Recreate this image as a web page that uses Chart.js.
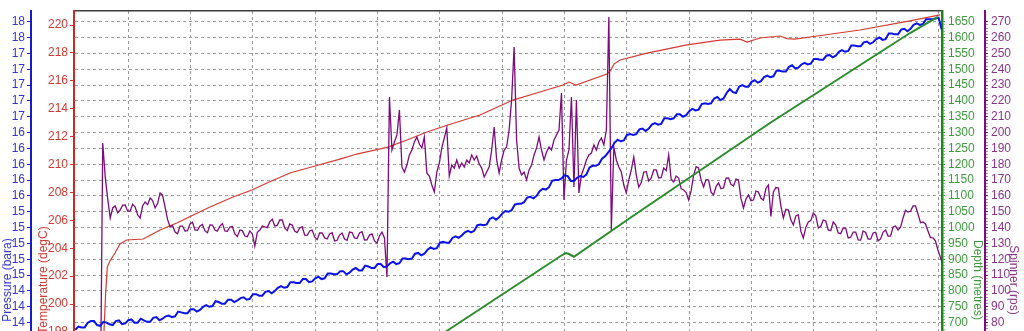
<!DOCTYPE html>
<html>
<head>
<meta charset="utf-8">
<script src="https://cdn.jsdelivr.net/npm/chart.js@4.4.0/dist/chart.umd.min.js"></script>
<style>
  html, body { margin: 0; padding: 0; overflow: hidden; background: #fff; }
  #wrap { position: relative; width: 1024px; height: 560px; }
</style>
</head>
<body>
<div id="wrap"><canvas id="logChart"></canvas></div>
<script>
// grid positions along the (hidden) time axis
var xGrid = [1, 2, 3, 4, 5, 6, 7, 8, 9, 10, 11, 12, 13, 14];

var pressureTicks = [18.2, 18.0, 17.8, 17.6, 17.4, 17.2, 17.0, 16.8, 16.6, 16.4, 16.2, 16.0, 15.8, 15.6, 15.4, 15.2, 15.0, 14.8, 14.6, 14.4, 14.2, 14.0, 13.8];
var temperatureTicks = [220, 218, 216, 214, 212, 210, 208, 206, 204, 202, 200, 198, 196, 194];
var depthTicks = [1650, 1600, 1550, 1500, 1450, 1400, 1350, 1300, 1250, 1200, 1150, 1100, 1050, 1000, 950, 900, 850, 800, 750, 700, 650, 600];
var spinnerTicks = [270, 260, 250, 240, 230, 220, 210, 200, 190, 180, 170, 160, 150, 140, 130, 120, 110, 100, 90, 80, 70, 60];

// temperature (degC)
var temperatureTime = [0.60, 0.637, 0.663, 0.706, 0.787, 0.867, 0.974, 1.241, 1.509, 1.777, 2.043, 2.311, 2.680, 2.985, 3.225, 3.594, 3.996, 4.397, 4.665, 5.166, 5.471, 5.792, 6.129, 6.642, 7.172, 7.605, 7.974, 8.070, 8.183, 8.680, 8.744, 8.792, 8.889, 9.322, 9.964, 10.494, 10.815, 10.927, 11.135, 11.456, 11.569, 11.697, 11.938, 12.740, 13.542, 14.023];
var temperatureValues = [197.0, 200.79, 202.65, 203.08, 203.66, 204.30, 204.59, 204.66, 205.30, 205.81, 206.38, 206.95, 207.67, 208.17, 208.67, 209.39, 209.89, 210.39, 210.75, 211.25, 211.76, 212.33, 212.83, 213.55, 214.62, 215.20, 215.70, 215.91, 215.70, 216.49, 216.77, 217.20, 217.49, 217.99, 218.57, 218.92, 218.99, 218.78, 219.07, 219.21, 219.03, 218.99, 219.14, 219.64, 220.29, 220.72];

// depth (metres)
var depthTime = [0.90, 6.108, 7.974, 8.022, 8.070, 8.150, 9.049, 11.295, 13.542, 13.99];
var depthValues = [0, 673.7, 915.1, 919.9, 916.7, 908.2, 1030.4, 1330.2, 1614.3, 1665];

// pressure (bara), one reading every 0.05 from t = 0.15
var pressureStart = 0.15, pressureStep = 0.05;
var pressureValues = [
  14.31, 14.35, 14.34, 14.34, 14.40, 14.42, 14.42, 14.37, 14.36, 14.41,
  14.40, 14.38, 14.37, 14.42, 14.43, 14.38, 14.39, 14.43, 14.44, 14.40,
  14.40, 14.45, 14.43, 14.41, 14.41, 14.46, 14.47, 14.43, 14.45, 14.48,
  14.49, 14.47, 14.48, 14.54, 14.53, 14.52, 14.52, 14.57, 14.57, 14.54,
  14.56, 14.60, 14.62, 14.60, 14.61, 14.67, 14.66, 14.64, 14.64, 14.69,
  14.69, 14.66, 14.68, 14.71, 14.72, 14.69, 14.70, 14.76, 14.76, 14.74,
  14.74, 14.79, 14.80, 14.77, 14.80, 14.84, 14.86, 14.84, 14.85, 14.91,
  14.91, 14.90, 14.90, 14.95, 14.95, 14.91, 14.92, 14.96, 14.98, 14.95,
  14.96, 15.02, 15.02, 15.01, 15.01, 15.05, 15.05, 15.01, 15.03, 15.07,
  15.09, 15.06, 15.06, 15.12, 15.11, 15.09, 15.09, 15.14, 15.14, 15.10,
  15.11, 15.15, 15.17, 15.14, 15.15, 15.21, 15.21, 15.20, 15.21, 15.27,
  15.28, 15.25, 15.27, 15.32, 15.35, 15.33, 15.34, 15.41, 15.42, 15.41,
  15.41, 15.47, 15.49, 15.47, 15.50, 15.54, 15.56, 15.54, 15.56, 15.63,
  15.64, 15.63, 15.64, 15.71, 15.73, 15.70, 15.73, 15.78, 15.81, 15.80,
  15.82, 15.89, 15.90, 15.90, 15.92, 15.98, 15.99, 15.97, 16.00, 16.06,
  16.09, 16.08, 16.11, 16.19, 16.20, 16.20, 16.22, 16.26, 16.25, 16.19,
  16.19, 16.23, 16.25, 16.24, 16.27, 16.36, 16.38, 16.38, 16.40, 16.47,
  16.50, 16.55, 16.60, 16.67, 16.71, 16.69, 16.70, 16.77, 16.78, 16.77,
  16.78, 16.84, 16.85, 16.82, 16.85, 16.90, 16.92, 16.90, 16.91, 16.98,
  16.98, 16.97, 16.98, 17.03, 17.03, 17.00, 17.02, 17.07, 17.10, 17.08,
  17.09, 17.16, 17.17, 17.16, 17.17, 17.23, 17.25, 17.21, 17.23, 17.30,
  17.35, 17.31, 17.30, 17.38, 17.40, 17.38, 17.38, 17.44, 17.46, 17.43,
  17.45, 17.50, 17.52, 17.50, 17.51, 17.58, 17.58, 17.57, 17.57, 17.63,
  17.65, 17.61, 17.62, 17.66, 17.68, 17.66, 17.67, 17.73, 17.73, 17.72,
  17.72, 17.77, 17.78, 17.75, 17.77, 17.82, 17.84, 17.82, 17.83, 17.90,
  17.90, 17.89, 17.89, 17.94, 17.95, 17.92, 17.94, 17.98, 18.00, 17.97,
  17.98, 18.05, 18.05, 18.04, 18.04, 18.10, 18.11, 18.08, 18.11, 18.16,
  18.18, 18.16, 18.17, 18.23, 18.23, 18.23, 18.24, 18.25, 18.10
];

// spinner (rps), one reading every 0.04 from t = 0.15
var spinnerStart = 0.15, spinnerStep = 0.04;
var spinnerValues = [
  20, 20, 20, 20, 20, 20, 20, 20, 20, 20,
  20, 193.4, 172.0, 158.0, 146.1, 152.4, 153.7, 149.4, 151.1, 154.2,
  154.3, 150.4, 150.5, 154.8, 153.0, 148.1, 146.1, 153.7, 156.2, 154.5,
  158.7, 157.1, 152.4, 155.2, 161.9, 160.5, 153.0, 145.2, 140.4, 141.3,
  137.2, 136.1, 141.0, 141.0, 137.9, 138.1, 142.3, 143.4, 138.5, 138.3,
  141.0, 142.0, 137.9, 136.8, 141.7, 141.6, 138.5, 137.8, 141.0, 142.5,
  137.9, 137.7, 140.4, 140.7, 136.0, 134.3, 138.5, 138.1, 134.7, 134.3,
  137.9, 136.0, 128.4, 137.0, 138.5, 141.0, 140.4, 140.0, 143.6, 145.3,
  141.0, 141.4, 144.8, 144.8, 139.8, 138.1, 142.3, 141.6, 137.9, 136.9,
  139.8, 140.6, 135.3, 135.1, 137.9, 138.5, 134.1, 132.4, 136.6, 136.6,
  133.5, 132.8, 136.0, 136.8, 131.6, 132.0, 135.3, 136.6, 132.8, 132.0,
  137.2, 136.9, 133.5, 133.1, 136.6, 137.4, 132.2, 132.3, 135.3, 136.0,
  131.6, 130.2, 134.7, 137.2, 133.5, 108.8, 222.5, 189.0, 194.1, 198.5,
  214.3, 178.3, 175.1, 179.5, 185.9, 189.0, 194.1, 197.2, 192.8, 190.3,
  197.2, 174.5, 172.6, 166.9, 162.5, 175.1, 180.8, 190.3, 196.6, 202.9,
  172.6, 179.5, 177.6, 182.7, 177.6, 180.8, 178.3, 182.7, 180.8, 185.9,
  182.7, 185.2, 180.2, 177.6, 172.0, 175.1, 178.3, 189.0, 203.5, 182.7,
  174.5, 182.7, 189.0, 190.9, 201.6, 220.6, 254.0, 195.3, 177.6, 173.2,
  175.1, 170.1, 176.4, 179.5, 185.9, 190.3, 197.2, 189.0, 182.7, 187.7,
  190.9, 189.0, 195.3, 198.5, 201.6, 225.0, 157.4, 182.7, 189.0, 222.5,
  165.6, 220.6, 161.9, 173.2, 177.6, 182.7, 185.9, 187.1, 192.2, 189.0,
  194.1, 196.6, 192.2, 201.6, 273.0, 138.5, 190.9, 182.7, 178.3, 175.1,
  166.9, 161.9, 170.1, 176.4, 184.6, 173.2, 165.6, 168.4, 175.1, 175.3,
  169.4, 171.4, 176.4, 176.4, 171.3, 171.5, 177.6, 176.0, 185.9, 170.5,
  168.8, 172.6, 171.3, 164.6, 163.8, 162.1, 157.4, 163.3, 173.2, 178.4,
  177.6, 170.1, 165.6, 170.4, 170.1, 162.4, 160.6, 165.9, 168.2, 164.6,
  165.0, 171.2, 171.3, 167.3, 166.3, 170.7, 170.1, 158.3, 152.4, 158.0,
  160.6, 157.0, 157.4, 163.0, 162.5, 158.5, 157.4, 164.7, 166.9, 147.0,
  162.5, 165.3, 165.0, 153.6, 146.1, 151.6, 151.1, 144.9, 141.7, 147.4,
  148.0, 137.8, 133.5, 140.1, 143.6, 144.4, 149.2, 147.5, 139.8, 140.8,
  144.8, 144.2, 138.5, 138.1, 143.6, 141.6, 136.6, 136.2, 139.8, 139.7,
  133.5, 133.9, 137.2, 137.2, 132.2, 132.1, 137.9, 136.9, 132.8, 132.7,
  136.6, 137.1, 131.6, 132.9, 137.2, 138.5, 134.7, 134.6, 140.4, 141.0,
  138.5, 140.3, 146.1, 151.0, 149.9, 150.3, 153.7, 153.7, 148.6, 143.1,
  143.6, 142.3, 137.9, 133.7, 133.5, 131.7, 125.9, 121.2, 116.4
];

function pairs(times, values) {
  return values.map(function (v, i) { return { x: times[i], y: v }; });
}
function sampled(start, step, values) {
  return values.map(function (v, i) { return { x: start + i * step, y: v }; });
}
function fixedTicks(list) {
  return function (axis) {
    axis.ticks = list.map(function (v) { return { value: v, major: true }; });
  };
}
// labelled ticks plus unlabelled small ones in between
function rulerTicks(list, minorStep) {
  return function (axis) {
    var ticks = [];
    list.forEach(function (v) {
      ticks.push({ value: v, major: true });
      for (var m = 1; m * minorStep < list[0] - list[1] - 1e-9; m++) {
        ticks.push({ value: v - m * minorStep, major: false });
      }
    });
    axis.ticks = ticks;
  };
}
function width(w) {
  return function (axis) { axis.width = w; };
}
function majorColor(major, minor) {
  return function (c) { return c.tick && c.tick.major ? major : minor; };
}

var tickFont = { family: "'Liberation Sans Narrow', 'Liberation Sans', Arial, sans-serif", size: 12 };
var titleFont = { family: "'Liberation Sans', Arial, sans-serif", size: 12 };

var ctx = document.getElementById('logChart');
var logChart = new Chart(ctx, {
  type: 'line',
  data: {
    datasets: [{
      label: 'Depth',
      data: pairs(depthTime, depthValues),
      borderColor: '#2a8c2a',
      borderWidth: 2,
      yAxisID: 'yDepth'
    }, {
      label: 'Pressure',
      data: sampled(pressureStart, pressureStep, pressureValues),
      borderColor: '#0a12ea',
      borderWidth: 2,
      yAxisID: 'yPres'
    }, {
      label: 'Spinner',
      data: sampled(spinnerStart, spinnerStep, spinnerValues),
      borderColor: '#7d0c7d',
      borderWidth: 1.3,
      yAxisID: 'ySpin'
    }, {
      label: 'Temperature',
      data: pairs(temperatureTime, temperatureValues),
      borderColor: '#d33a30',
      borderWidth: 1.2,
      yAxisID: 'yTemp'
    }]
  },
  options: {
    responsive: true,
    maintainAspectRatio: false,
    animation: false,
    layout: { padding: { top: 11 } },
    elements: {
      point: { radius: 0 },
      line: { tension: 0 }
    },
    plugins: {
      legend: { display: false },
      tooltip: { enabled: false }
    },
    scales: {
      x: {
        type: 'linear',
        position: 'bottom',
        min: 0.129,
        max: 14.055,
        afterBuildTicks: fixedTicks(xGrid),
        afterFit: function (axis) { axis.height = 11; },
        ticks: { display: false },
        grid: { color: '#9a9a9a', lineWidth: 1, drawTicks: false },
        border: { display: false, dash: [3, 3] }
      },
      xTop: {
        type: 'linear',
        position: 'top',
        min: 0.129,
        max: 14.055,
        afterBuildTicks: fixedTicks(xGrid),
        afterFit: function (axis) { axis.height = 0; },
        ticks: { display: false },
        grid: { display: false },
        border: { display: true, color: '#3c3c3c', width: 1.5 }
      },
      yPres: {
        type: 'linear',
        position: 'left',
        weight: 2,
        min: 11.542,
        max: 18.335,
        bounds: 'data',
        afterBuildTicks: fixedTicks(pressureTicks),
        afterFit: width(31),
        ticks: {
          autoSkip: false,
          color: '#3535d0',
          font: tickFont,
          padding: 2,
          callback: function (v) { return Math.floor(v + 1e-6); }
        },
        grid: { color: '#9a9a9a', lineWidth: 1, tickLength: 4, tickColor: '#2020c0' },
        border: { color: '#1a1ac8', width: 2, dash: [3, 3] },
        title: { display: true, text: 'Pressure (bara)', color: '#3535d0', font: titleFont, padding: { top: 0, bottom: 0 } }
      },
      yTemp: {
        type: 'linear',
        position: 'left',
        weight: 1,
        min: 182.438,
        max: 221.004,
        bounds: 'data',
        afterBuildTicks: fixedTicks(temperatureTicks),
        afterFit: width(43),
        ticks: { autoSkip: false, color: '#cf3a34', font: tickFont, padding: 2 },
        grid: { drawOnChartArea: false, tickLength: 4, tickColor: '#cf3a34' },
        border: { color: '#cc2a24', width: 2 },
        title: { display: true, text: 'Temperature (degC)', color: '#cf3a34', font: titleFont, padding: { top: 5, bottom: 0 } }
      },
      yDepth: {
        type: 'linear',
        position: 'right',
        weight: 1,
        min: -14.4,
        max: 1683.8,
        bounds: 'data',
        afterBuildTicks: rulerTicks(depthTicks, 10),
        afterFit: width(43),
        ticks: {
          autoSkip: false,
          color: '#3f9a3f',
          font: tickFont,
          padding: 3,
          callback: function (v, i, all) { return all[i].major ? String(v) : ''; }
        },
        grid: { drawOnChartArea: false, tickLength: 3, tickWidth: 1, tickColor: majorColor('#2a8c2a', 'rgba(42,140,42,0.55)') },
        border: { color: '#1f861f', width: 2.5 },
        title: { display: true, text: 'Depth (metres)', color: '#3f9a3f', font: titleFont, padding: { top: 0, bottom: 0 } }
      },
      ySpin: {
        type: 'linear',
        position: 'right',
        weight: 2,
        min: -62.9,
        max: 276.755,
        bounds: 'data',
        afterBuildTicks: rulerTicks(spinnerTicks, 2),
        afterFit: width(39),
        ticks: {
          autoSkip: false,
          color: '#8a358a',
          font: tickFont,
          padding: 3,
          callback: function (v, i, all) { return all[i].major ? String(v) : ''; }
        },
        grid: { drawOnChartArea: false, tickLength: 3, tickWidth: 1, tickColor: majorColor('#7d0c7d', 'rgba(125,12,125,0.55)') },
        border: { color: '#7d0c7d', width: 2 },
        title: { display: true, text: 'Spinner (rps)', color: '#8a358a', font: titleFont, padding: { top: 3, bottom: 0 } }
      }
    }
  }
});
</script>
</body>
</html>
